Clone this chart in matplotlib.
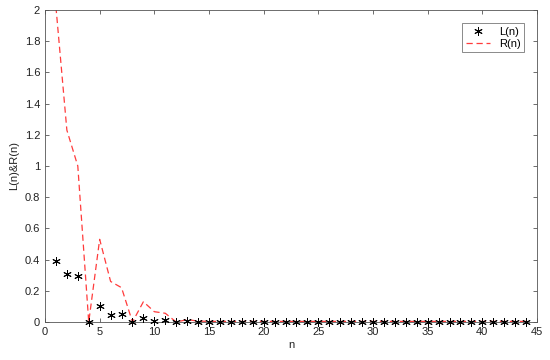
import numpy as np
import matplotlib
matplotlib.use("Agg")
import matplotlib.pyplot as plt

plt.rcParams["font.family"] = ["Liberation Sans", "DejaVu Sans"]

# data
n = np.arange(1, 45)
L_vals = [0.39, 0.31, 0.295, 0.0, 0.10, 0.043, 0.05, 0.0, 0.026, 0.005,
          0.01, 0.0, 0.006, 0.002] + [0.002] * 30
R_vals = [2.02, 1.23, 1.0, 0.0, 0.53, 0.26, 0.22, 0.0, 0.13, 0.066,
          0.056, 0.0, 0.015, 0.006] + [0.004] * 30

AX_COL = "#555555"

fig = plt.figure(figsize=(5.5, 3.6), dpi=100)
ax = fig.add_axes([45 / 550, 38 / 360, 492 / 550, 312 / 360])

# MATLAB-style asterisk marker
ax.plot(n, L_vals, linestyle="none", marker=(6, 2, 0), color="black",
        markersize=6, markeredgewidth=0.7, label="L(n)", clip_on=False,
        zorder=3)
ax.plot(n, R_vals, linestyle="--", color="#ff3b3b", linewidth=0.9,
        dashes=(5, 3), label="R(n)")

ax.set_xlim(0, 45)
ax.set_ylim(0, 2)
ax.set_xticks(np.arange(0, 46, 5))
ax.set_yticks(np.arange(0, 2.01, 0.2))
ax.set_yticklabels(["0", "0.2", "0.4", "0.6", "0.8", "1", "1.2", "1.4",
                    "1.6", "1.8", "2"])
ax.tick_params(direction="in", top=True, right=True, labelsize=8,
               colors=AX_COL, labelcolor="#222222", length=3, width=0.6)
for sp in ax.spines.values():
    sp.set_edgecolor(AX_COL)
    sp.set_linewidth(0.6)

ax.set_xlabel("n", fontsize=8, color="#222222", labelpad=2)
ax.set_ylabel("L(n)&R(n)", fontsize=8, color="#222222", labelpad=4)

leg = ax.legend(loc="upper right", fontsize=8, frameon=True, fancybox=False,
                handlelength=2.2, borderpad=0.3, labelspacing=0.2,
                bbox_to_anchor=(0.985, 0.975))
leg.get_frame().set_edgecolor(AX_COL)
leg.get_frame().set_linewidth(0.6)

fig.savefig("out.png", dpi=100)
